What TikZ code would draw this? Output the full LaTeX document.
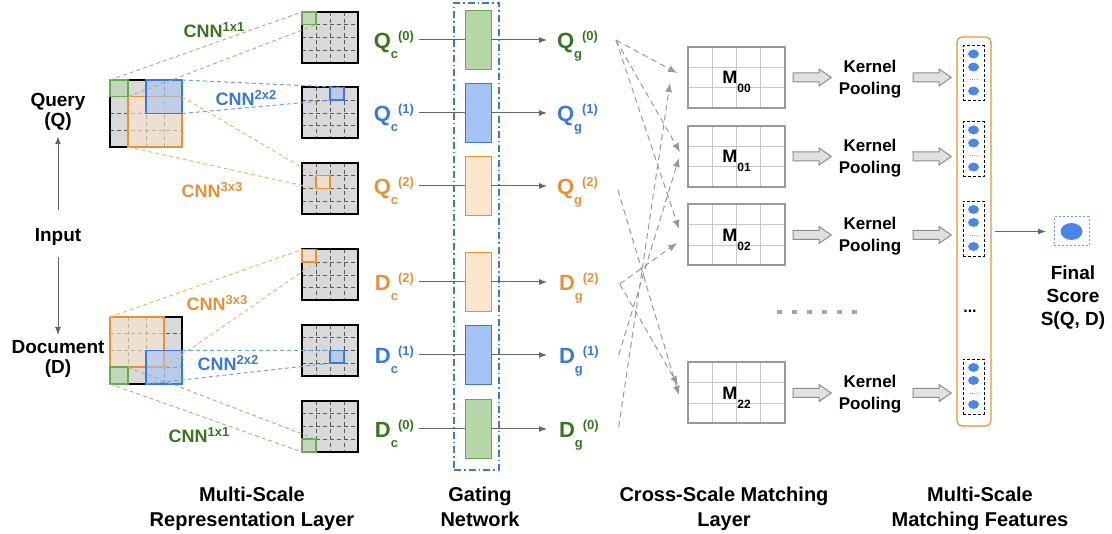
\documentclass[tikz,border=0pt]{standalone}
\usepackage{fontspec}
\setmainfont{Liberation Sans}
\usetikzlibrary{positioning,calc,arrows.meta,shapes.arrows,shapes.geometric}

\definecolor{textg}{HTML}{38761D}
\definecolor{lineg}{HTML}{93C47D}
\definecolor{fillg}{HTML}{B6D7A8}
\definecolor{drawg}{HTML}{6AA84F}
\definecolor{textb}{HTML}{3C78D8}
\definecolor{lineb}{HTML}{6D9EEB}
\definecolor{fillb}{HTML}{A4C2F4}
\definecolor{drawb}{HTML}{3C78D8}
\definecolor{texto}{HTML}{E69138}
\definecolor{lineo}{HTML}{F6B26B}
\definecolor{fillo}{HTML}{FCE5CD}
\definecolor{drawo}{HTML}{E69138}
\definecolor{mapgray}{HTML}{D9D9D9}
\definecolor{dotblue}{HTML}{4A86E8}

\newcommand{\scl}[3]{#1\raisebox{-10pt}{\fontsize{13}{13}\selectfont #2}\raisebox{8pt}{\fontsize{13}{13}\selectfont (#3)}}
\newcommand{\cnn}[1]{CNN\raisebox{6pt}{\fontsize{13}{13}\selectfont #1}}
\newcommand{\mij}[1]{M\raisebox{-9pt}{\fontsize{12}{12}\selectfont #1}}

\tikzset{
  every node/.style={outer sep=0pt},
  cells/.style n args={3}{path picture={
    \pgfmathtruncatemacro\nc{#1-1}
    \pgfmathtruncatemacro\nr{#2-1}
    \foreach \k in {1,...,\nc}
      \draw[#3] ($(path picture bounding box.north west)!\k/#1!(path picture bounding box.north east)$)
        -- ($(path picture bounding box.south west)!\k/#1!(path picture bounding box.south east)$);
    \foreach \k in {1,...,\nr}
      \draw[#3] ($(path picture bounding box.north west)!\k/#2!(path picture bounding box.south west)$)
        -- ($(path picture bounding box.north east)!\k/#2!(path picture bounding box.south east)$);
  }},
  inlab/.style={align=center, inner sep=0pt, anchor=north, font=\fontsize{19}{20}\selectfont\bfseries},
  inarrow/.style={draw=black!60, line width=1pt, ->},
  bigmap/.style={draw, line width=1.5pt, fill=mapgray, minimum width=72pt, minimum height=67pt, inner sep=0pt,
    cells={4}{4}{black!65, line width=0.8pt, dash pattern=on 4pt off 3pt}},
  fmap/.style={draw, line width=2pt, fill=mapgray, minimum width=56pt, minimum height=51pt, inner sep=0pt,
    cells={4}{4}{black!65, line width=0.8pt, dash pattern=on 4pt off 3pt}},
  win/.style={draw=draw#1, fill=fill#1, fill opacity=.6, line width=1.5pt, inner sep=0pt},
  w1/.style={minimum width=18pt, minimum height=16.75pt},
  w2/.style={minimum width=36pt, minimum height=33.5pt},
  w3/.style={minimum width=54pt, minimum height=50.25pt},
  cell/.style={minimum width=14pt, minimum height=12.75pt},
  proj/.style={draw=line#1, line width=1pt, dash pattern=on 4pt off 3pt},
  cnnlab/.style={text=text#1, inner sep=0pt, text depth=0pt, font=\fontsize{18}{18}\selectfont\bfseries},
  gatebox/.style={draw=drawb, line width=1.5pt, dash pattern=on 7pt off 3pt on 1.5pt off 3pt,
    minimum width=45pt, minimum height=467pt, inner sep=0pt},
  gate/.style={draw=draw#1, fill=fill#1, line width=1pt, minimum width=26pt, minimum height=59pt, inner sep=0pt},
  vlab/.style={text=text#1, inner sep=1pt, text depth=0pt, font=\fontsize{22}{22}\selectfont\bfseries},
  flow/.style={draw=black!60, line width=1pt},
  cross/.style={draw=black!40, line width=1pt, dash pattern=on 6pt off 4pt, -{Latex[length=9pt,width=7pt]}},
  mat/.style={draw=black!40, line width=2pt, fill=white, minimum width=97pt, minimum height=61pt, inner sep=0pt,
    text depth=0pt, font=\fontsize{18}{18}\selectfont\bfseries, cells={4}{3}{black!22, line width=1pt}},
  bigarrow/.style={single arrow, draw=black!45, fill=black!12, line width=1pt, minimum height=38pt,
    inner sep=4pt, single arrow head extend=4pt, single arrow tip angle=70},
  kp/.style={align=center, anchor=north, inner sep=0pt, font=\fontsize{17}{22}\selectfont\bfseries},
  featcol/.style={draw=drawo, rounded corners=5pt, line width=1.2pt, minimum width=34pt, minimum height=389pt, inner sep=0pt},
  fbox/.style={draw, dash pattern=on 3pt off 2pt, line width=1pt, minimum width=21pt, minimum height=55pt, inner sep=0pt},
  fdot/.style={ellipse, fill=dotblue, minimum width=11pt, minimum height=9pt, inner sep=0pt},
  finalbox/.style={draw=lineb, dash pattern=on 2pt off 2pt, line width=1pt, minimum width=35pt, minimum height=29pt, inner sep=0pt},
  caption/.style={align=center, anchor=north, inner sep=0pt, font=\fontsize{20}{25}\selectfont\bfseries}
}

\begin{document}
\begin{tikzpicture}[x=1pt, y=-1pt, >={Latex[length=8pt,width=6pt]}]
\useasboundingbox (0,0) rectangle (1112,534);

% input
\node[inlab] (qin) at (58,93) {Query\\(Q)};
\node[inlab] (input) at (58,228) {Input};
\node[inlab] (din) at (58,340) {Document\\(D)};
\draw[inarrow, shorten <=18pt, shorten >=6pt] (input) -- (qin);
\draw[inarrow, shorten <=12pt, shorten >=5pt] (input) -- (din);

% representation layer
\node[bigmap] (qgrid) at (146,113.5) {};
\node[bigmap] (dgrid) at (146,350.5) {};
\node[win=o, w3, anchor=south east] (qw-2) at (qgrid.south east) {};
\node[win=b, w2, anchor=north east] (qw-1) at (qgrid.north east) {};
\node[win=g, w1, anchor=north west] (qw-0) at (qgrid.north west) {};
\node[win=o, w3, anchor=north west] (dw-2) at (dgrid.north west) {};
\node[win=b, w2, anchor=south east] (dw-1) at (dgrid.south east) {};
\node[win=g, w1, anchor=south west] (dw-0) at (dgrid.south west) {};

\foreach \s/\y in {0/37.5, 1/113, 2/188.5}
  \node[fmap] (qf-\s) at (330,\y) {};
\foreach \s/\y in {2/275, 1/350.5, 0/426.5}
  \node[fmap] (df-\s) at (330,\y) {};
\node[win=g, cell, anchor=north west] (qs-0) at (qf-0.north west) {};
\node[win=b, cell, anchor=north west] (qs-1) at ([xshift=28pt]qf-1.north west) {};
\node[win=o, cell, anchor=north west] (qs-2) at ([xshift=14pt,yshift=-12.75pt]qf-2.north west) {};
\node[win=o, cell, anchor=north west] (ds-2) at (df-2.north west) {};
\node[win=b, cell, anchor=north west] (ds-1) at ([xshift=28pt,yshift=-25.5pt]df-1.north west) {};
\node[win=g, cell, anchor=south west] (ds-0) at (df-0.south west) {};

% projections of the windows
\draw[proj=g] (qw-0.north west) -- (qs-0.north west) (qw-0.south east) -- (qs-0.south east);
\draw[proj=b] (qw-1.north east) -- (qs-1.north east) (qw-1.south east) -- (qs-1.south west);
\draw[proj=o] (qw-2.north east) -- (qs-2.north west) (qw-2.south west) -- (qs-2.south west);
\draw[proj=o] (dw-2.north west) -- (ds-2.north west) (dw-2.south east) -- (ds-2.south east);
\draw[proj=b] (dw-1.north east) -- (ds-1.north west) (dw-1.south west) -- (ds-1.south west);
\draw[proj=g] (dw-0.south west) -- (ds-0.south west) (dw-0.north east) -- (ds-0.north east);

\node[cnnlab=g] (cnn-q0) at (214,30) {\cnn{1x1}};
\node[cnnlab=b] (cnn-q1) at (246,98) {\cnn{2x2}};
\node[cnnlab=o] (cnn-q2) at (212,190) {\cnn{3x3}};
\node[cnnlab=o] (cnn-d2) at (217,303) {\cnn{3x3}};
\node[cnnlab=b] (cnn-d1) at (228,363) {\cnn{2x2}};
\node[cnnlab=g] (cnn-d0) at (199,435) {\cnn{1x1}};

% gating network
\node[gatebox] (gating) at (476.5,236.5) {};
\foreach \s/\col/\y in {0/g/40, 1/b/113, 2/o/186} {
  \node[gate=\col] (gq-\s) at (478,\y) {};
  \node[vlab=\col, anchor=east] (qc-\s) at (415,\y) {\scl{Q}{c}{\s}};
  \node[vlab=\col, anchor=west] (qg-\s) at (556,\y) {\scl{Q}{g}{\s}};
  \draw[flow, shorten <=4pt] (qc-\s) -- (gq-\s);
  \draw[flow, ->, shorten >=9pt] (gq-\s) -- (qg-\s);
}
\foreach \s/\col/\y in {2/o/282, 1/b/355, 0/g/429} {
  \node[gate=\col] (gd-\s) at (478,\y) {};
  \node[vlab=\col, anchor=east] (dc-\s) at (415,\y) {\scl{D}{c}{\s}};
  \node[vlab=\col, anchor=west] (dg-\s) at (558,\y) {\scl{D}{g}{\s}};
  \draw[flow, shorten <=4pt] (dc-\s) -- (gd-\s);
  \draw[flow, ->, shorten >=11pt] (gd-\s) -- (dg-\s);
}

% cross-scale matching
\foreach \n/\y in {00/77.5, 01/156.5, 02/235, 22/393} {
  \node[mat] (m-\n) at (736.5,\y) {\mij{\n}};
  \node[bigarrow] (ka-\n) at (809,\y) {};
  \node[kp] (kp-\n) at (870,\y-17.5) {Kernel\\Pooling};
  \node[bigarrow] (kb-\n) at (929,\y) {};
}
\coordinate (qo-0) at ([xshift=17pt]qg-0.east);
\coordinate (qo-2) at ([xshift=19pt,yshift=-4pt]qg-2.east);
\coordinate (do-2) at ([xshift=20pt,yshift=-2pt]dg-2.east);
\coordinate (do-1) at ([xshift=19pt]dg-1.east);
\coordinate (do-0) at ([xshift=19pt,yshift=2pt]dg-0.east);
\foreach \s/\t/\dx/\dy in {qo-0/m-00/-11/4.5, qo-0/m-01/-8/4.5, qo-0/m-02/-9/6, do-0/m-00/-18/-5.5,
                           do-1/m-01/-9/-1.5, do-2/m-02/-11/-8, do-2/m-22/-10/8, qo-2/m-22/-9/-2}
  \draw[cross] (\s) -- ([xshift=\dx pt, yshift=\dy pt]\t.west);

\foreach \k in {0,...,5}
  \fill[black!35] (777+\k*15,310) rectangle ++(4.5,4.5);

% matching features
\node[featcol] (feat) at (974,231.5) {};
\foreach \y [count=\i] in {73.5,149.5,229,387} {
  \node[fbox] (fb-\i) at (973.5,\y) {};
  \foreach \d [count=\j] in {-19.5,-6.5,17.5}
    \node[fdot] (fd-\i-\j) at ([yshift=-\d pt]fb-\i.center) {};
  \draw[dotted, black!40] ([xshift=-4pt,yshift=-6pt]fb-\i.center) -- ([xshift=4pt,yshift=-6pt]fb-\i.center);
}
\node[font=\fontsize{16}{16}\selectfont\bfseries, inner sep=0pt] (fdots) at (970,311) {...};

% final score
\node[finalbox] (final) at (1071.5,231.5) {};
\node[fdot, minimum width=22pt, minimum height=17pt] (fscore) at (final.center) {};
\draw[flow, ->, shorten <=4pt, shorten >=8pt] (feat) -- (final);
\node[kp, font=\fontsize{19}{23}\selectfont\bfseries] (score) at (1073,266) {Final\\Score\\S(Q, D)};

% layer names
\foreach \t/\x [count=\i] in {{Multi-Scale\\Representation Layer}/252, {Gating\\Network}/480,
                              {Cross-Scale Matching\\Layer}/724, {Multi-Scale\\Matching Features}/980}
  \node[caption] (cap-\i) at (\x,487) {\t};
\end{tikzpicture}
\end{document}
